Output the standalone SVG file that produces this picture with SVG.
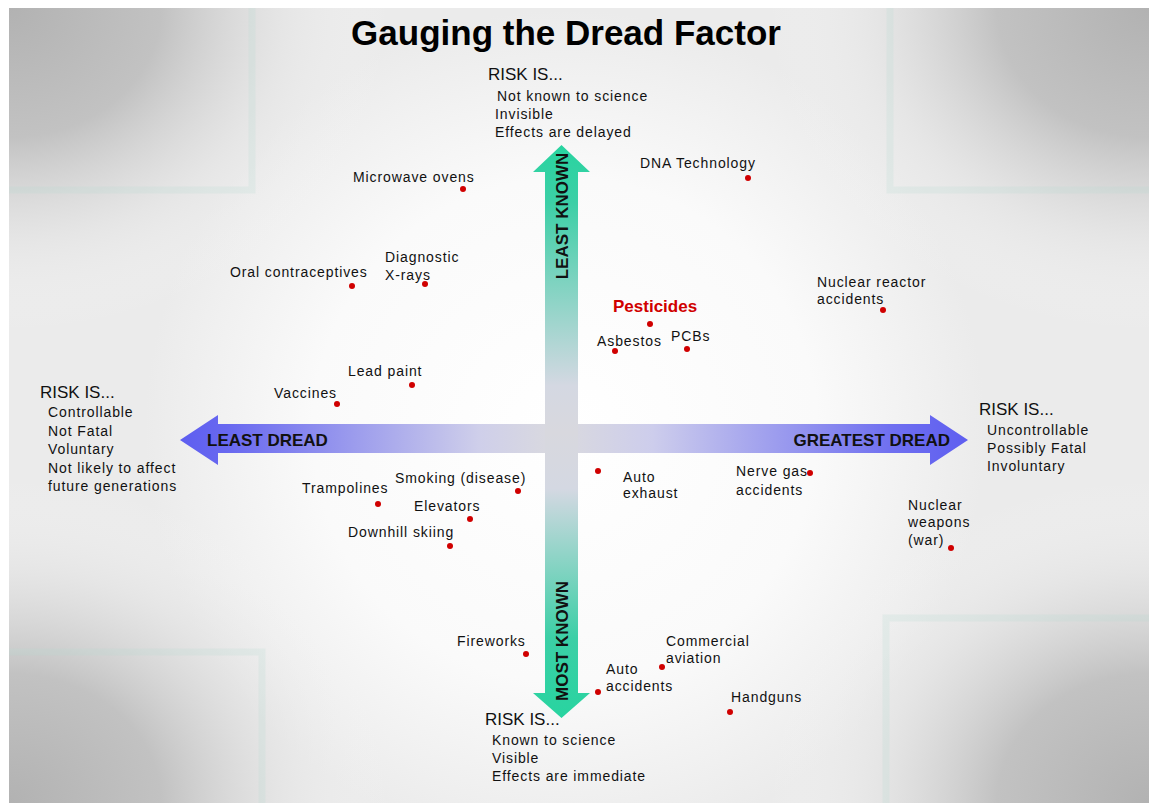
<svg xmlns="http://www.w3.org/2000/svg" width="1149" height="803" viewBox="0 0 1149 803">
<style>
.t{font-family:"Liberation Sans",Arial,sans-serif;font-size:14px;letter-spacing:0.9px;fill:#111}
.h{font-family:"Liberation Sans",Arial,sans-serif;font-size:17px;fill:#111}
.ax{font-family:"Liberation Sans",Arial,sans-serif;font-size:17px;font-weight:bold;fill:#111}
.dot{fill:#d00000}
.band{fill:none;stroke-width:7;opacity:0.22}
</style>
<defs>
<radialGradient id="cTL" gradientUnits="userSpaceOnUse" cx="9" cy="8" r="380" gradientTransform="translate(9 8) scale(1 0.85) translate(-9 -8)">
<stop offset="0" stop-color="#b2b2b2"/><stop offset="0.4" stop-color="#c2c2c2"/><stop offset="0.72" stop-color="#e2e2e2" stop-opacity="0.6"/><stop offset="1" stop-color="#f6f6f6" stop-opacity="0"/>
</radialGradient>
<radialGradient id="cTR" gradientUnits="userSpaceOnUse" cx="1149" cy="8" r="380" gradientTransform="translate(1149 8) scale(1 0.85) translate(-1149 -8)">
<stop offset="0" stop-color="#b2b2b2"/><stop offset="0.4" stop-color="#c2c2c2"/><stop offset="0.72" stop-color="#e2e2e2" stop-opacity="0.6"/><stop offset="1" stop-color="#f6f6f6" stop-opacity="0"/>
</radialGradient>
<radialGradient id="cBL" gradientUnits="userSpaceOnUse" cx="9" cy="803" r="380" gradientTransform="translate(9 803) scale(1 0.85) translate(-9 -803)">
<stop offset="0" stop-color="#b2b2b2"/><stop offset="0.4" stop-color="#c2c2c2"/><stop offset="0.72" stop-color="#e2e2e2" stop-opacity="0.6"/><stop offset="1" stop-color="#f6f6f6" stop-opacity="0"/>
</radialGradient>
<radialGradient id="cBR" gradientUnits="userSpaceOnUse" cx="1149" cy="803" r="380" gradientTransform="translate(1149 803) scale(1 0.85) translate(-1149 -803)">
<stop offset="0" stop-color="#b2b2b2"/><stop offset="0.4" stop-color="#c2c2c2"/><stop offset="0.72" stop-color="#e2e2e2" stop-opacity="0.6"/><stop offset="1" stop-color="#f6f6f6" stop-opacity="0"/>
</radialGradient>
<radialGradient id="cC" gradientUnits="userSpaceOnUse" cx="565" cy="430" r="420">
<stop offset="0" stop-color="#ffffff"/><stop offset="0.6" stop-color="#fafafa"/><stop offset="1" stop-color="#ebebeb"/>
</radialGradient>
<linearGradient id="gV" gradientUnits="userSpaceOnUse" x1="0" y1="145" x2="0" y2="718">
<stop offset="0" stop-color="#28d4a0"/><stop offset="0.1" stop-color="#3ccfa6"/><stop offset="0.42" stop-color="#d4d8e2"/><stop offset="0.5" stop-color="#d8d8de"/><stop offset="0.6" stop-color="#d4d8e2"/><stop offset="0.86" stop-color="#3ccfa6"/><stop offset="1" stop-color="#28d4a0"/>
</linearGradient>
<linearGradient id="gH" gradientUnits="userSpaceOnUse" x1="180" y1="0" x2="968" y2="0">
<stop offset="0" stop-color="#5e5ef0"/><stop offset="0.06" stop-color="#6868f0"/><stop offset="0.38" stop-color="#cfcfea"/><stop offset="0.48" stop-color="#dadade"/><stop offset="0.6" stop-color="#cdcdec"/><stop offset="0.9" stop-color="#7070f0"/><stop offset="1" stop-color="#5e5ef0"/>
</linearGradient>
</defs>

<g id="background">
<rect x="0" y="0" width="1149" height="803" fill="#ffffff"/>
<rect x="9" y="8" width="1140" height="795" fill="url(#cC)"/>
<rect x="9" y="8" width="1140" height="795" fill="url(#cTL)"/>
<rect x="9" y="8" width="1140" height="795" fill="url(#cTR)"/>
<rect x="9" y="8" width="1140" height="795" fill="url(#cBL)"/>
<rect x="9" y="8" width="1140" height="795" fill="url(#cBR)"/>
<path class="band" d="M9 190 H252 V8" stroke="#b8dcd2"/>
<path class="band" d="M9 652 H262 V803" stroke="#b8dcd2"/>
<path class="band" d="M1149 190 H890 V8" stroke="#b8dcd2"/>
<path class="band" d="M1149 618 H886 V803" stroke="#b8dcd2"/>
</g>

<g id="title">
<text x="566" y="45" text-anchor="middle" font-family="'Liberation Sans',Arial,sans-serif" font-size="35" font-weight="bold" fill="#000">Gauging the Dread Factor</text>
</g>

<g id="axes">
<polygon id="axis-dread" points="180,440 218,415 218,424 930,424 930,415 968,440 930,465 930,453 218,453 218,465" fill="url(#gH)"/>
<polygon id="axis-known" points="561.5,145 590,172 578,172 578,693 590,693 561.5,718 533,693 545,693 545,172 533,172" fill="url(#gV)"/>
<text class="ax" x="207" y="446">LEAST DREAD</text>
<text class="ax" x="950" y="446" text-anchor="end">GREATEST DREAD</text>
<text class="ax" text-anchor="middle" transform="translate(568 216) rotate(-90)">LEAST KNOWN</text>
<text class="ax" text-anchor="middle" transform="translate(568 641) rotate(-90)">MOST KNOWN</text>
</g>

<g id="risk-top">
<text class="h" x="488" y="80">RISK IS...</text>
<text class="t" x="497" y="101">Not known to science</text>
<text class="t" x="495" y="119">Invisible</text>
<text class="t" x="495" y="137">Effects are delayed</text>
</g>
<g id="risk-left">
<text class="h" x="40" y="398">RISK IS...</text>
<text class="t" x="48" y="417">Controllable</text>
<text class="t" x="48" y="436">Not Fatal</text>
<text class="t" x="48" y="454">Voluntary</text>
<text class="t" x="48" y="473">Not likely to affect</text>
<text class="t" x="48" y="491">future generations</text>
</g>
<g id="risk-right">
<text class="h" x="979" y="415">RISK IS...</text>
<text class="t" x="987" y="435">Uncontrollable</text>
<text class="t" x="987" y="453">Possibly Fatal</text>
<text class="t" x="987" y="471">Involuntary</text>
</g>
<g id="risk-bottom">
<text class="h" x="485" y="725">RISK IS...</text>
<text class="t" x="492" y="745">Known to science</text>
<text class="t" x="492" y="763">Visible</text>
<text class="t" x="492" y="781">Effects are immediate</text>
</g>

<g id="microwave"><text class="t" x="353" y="182">Microwave ovens</text><circle class="dot" cx="463" cy="189" r="3"/></g>
<g id="dna"><text class="t" x="640" y="168">DNA Technology</text><circle class="dot" cx="748" cy="178" r="3"/></g>
<g id="xrays"><text class="t" x="385" y="262">Diagnostic</text><text class="t" x="385" y="280">X-rays</text><circle class="dot" cx="425" cy="284" r="3"/></g>
<g id="oral"><text class="t" x="230" y="277">Oral contraceptives</text><circle class="dot" cx="352" cy="286" r="3"/></g>
<g id="nuclear-reactor"><text class="t" x="817" y="287">Nuclear reactor</text><text class="t" x="817" y="304">accidents</text><circle class="dot" cx="883" cy="310" r="3"/></g>
<g id="pesticides"><text x="613" y="312" font-family="'Liberation Sans',Arial,sans-serif" font-size="17" font-weight="bold" fill="#d00000">Pesticides</text><circle class="dot" cx="650" cy="324" r="3"/></g>
<g id="asbestos"><text class="t" x="597" y="346">Asbestos</text><circle class="dot" cx="615" cy="351" r="3"/></g>
<g id="pcbs"><text class="t" x="671" y="341">PCBs</text><circle class="dot" cx="687" cy="349" r="3"/></g>
<g id="lead"><text class="t" x="348" y="376">Lead paint</text><circle class="dot" cx="412" cy="385" r="3"/></g>
<g id="vaccines"><text class="t" x="274" y="398">Vaccines</text><circle class="dot" cx="337" cy="404" r="3"/></g>
<g id="smoking"><text class="t" x="395" y="483">Smoking (disease)</text><circle class="dot" cx="518" cy="491" r="3"/></g>
<g id="trampolines"><text class="t" x="302" y="493">Trampolines</text><circle class="dot" cx="378" cy="504" r="3"/></g>
<g id="elevators"><text class="t" x="414" y="511">Elevators</text><circle class="dot" cx="470" cy="519" r="3"/></g>
<g id="skiing"><text class="t" x="348" y="537">Downhill skiing</text><circle class="dot" cx="450" cy="546" r="3"/></g>
<g id="auto-exhaust"><text class="t" x="623" y="482">Auto</text><text class="t" x="623" y="498">exhaust</text><circle class="dot" cx="598" cy="471" r="3"/></g>
<g id="nerve-gas"><text class="t" x="736" y="476">Nerve gas</text><text class="t" x="736" y="495">accidents</text><circle class="dot" cx="810" cy="473" r="3"/></g>
<g id="nuclear-weapons"><text class="t" x="908" y="510">Nuclear</text><text class="t" x="908" y="527">weapons</text><text class="t" x="908" y="545">(war)</text><circle class="dot" cx="951" cy="548" r="3"/></g>
<g id="fireworks"><text class="t" x="457" y="646">Fireworks</text><circle class="dot" cx="526" cy="654" r="3"/></g>
<g id="aviation"><text class="t" x="666" y="646">Commercial</text><text class="t" x="666" y="663">aviation</text><circle class="dot" cx="662" cy="667" r="3"/></g>
<g id="auto-accidents"><text class="t" x="606" y="674">Auto</text><text class="t" x="606" y="691">accidents</text><circle class="dot" cx="598" cy="692" r="3"/></g>
<g id="handguns"><text class="t" x="731" y="702">Handguns</text><circle class="dot" cx="730" cy="712" r="3"/></g>
</svg>
